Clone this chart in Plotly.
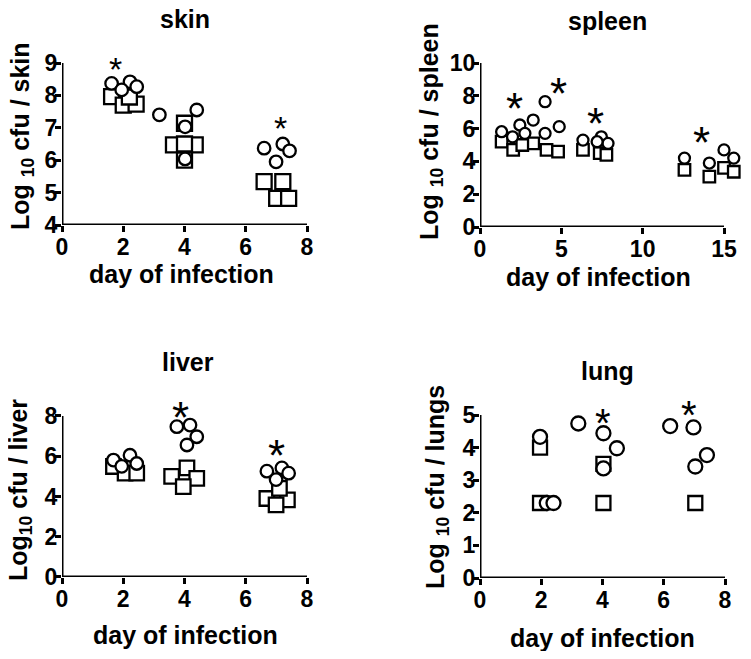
import plotly.graph_objects as go

# ---------------- data ----------------
skin_circle_day = [1.62, 2.22, 2.44, 1.95, 3.18, 4.4, 4.02, 4.02, 6.6, 7.21, 7.43, 6.99]
skin_circle_log = [8.37, 8.42, 8.27, 8.17, 7.4, 7.55, 7.03, 6.04, 6.37, 6.5, 6.29, 5.95]
skin_square_day = [1.62, 2.0, 2.42, 2.2, 4.0, 3.64, 4.35, 4.0, 4.0, 6.6, 7.21, 7.01, 7.4]
skin_square_log = [7.96, 7.7, 7.73, 7.95, 7.14, 6.47, 6.47, 6.5, 6.0, 5.34, 5.34, 4.82, 4.82]
skin_star_day = [1.76, 7.12]
skin_star_log = [9.04, 7.19]

spleen_circle_day = [1.33, 2.45, 3.27, 2.76, 4.0, 4.0, 4.87, 2.0, 6.33, 7.46, 7.87, 7.2, 12.57, 14.1, 15.0, 15.6]
spleen_circle_log = [5.81, 6.22, 6.52, 5.71, 7.64, 5.71, 6.12, 5.5, 5.3, 5.5, 5.1, 5.2, 4.2, 3.9, 4.7, 4.2]
spleen_square_day = [1.33, 2.04, 3.27, 4.09, 4.8, 2.6, 6.33, 7.36, 7.77, 12.57, 14.1, 15.0, 15.6]
spleen_square_log = [5.2, 4.7, 5.1, 4.7, 4.6, 5.0, 4.7, 4.5, 4.4, 3.48, 3.07, 3.6, 3.37]
spleen_star_day = [2.15, 4.8, 7.12, 13.6]
spleen_star_log = [7.75, 8.66, 6.83, 5.71]

liver_circle_day = [1.68, 2.22, 2.44, 1.95, 3.75, 4.18, 4.4, 4.08, 6.69, 7.18, 7.4, 6.99]
liver_circle_log = [5.81, 6.05, 5.64, 5.5, 7.47, 7.55, 6.97, 6.56, 5.26, 5.42, 5.16, 4.84]
liver_square_day = [1.68, 2.06, 2.44, 3.58, 4.08, 4.4, 3.96, 6.69, 7.36, 6.99, 7.1]
liver_square_log = [5.49, 5.16, 5.16, 5.0, 5.42, 4.9, 4.49, 3.9, 3.83, 3.58, 4.4]
liver_star_day = [3.86, 7.01]
liver_star_log = [8.38, 6.48]

lung_circle_day = [1.96, 3.21, 4.03, 4.47, 4.03, 6.21, 6.97, 7.41, 7.03, 2.18, 2.4]
lung_circle_log = [4.33, 4.74, 4.44, 3.98, 3.36, 4.66, 4.62, 3.77, 3.42, 2.3, 2.3]
lung_square_day = [1.96, 4.03, 4.03, 7.03, 1.96]
lung_square_log = [4.0, 3.5, 2.3, 2.3, 2.3]
lung_star_day = [4.03, 6.81]
lung_star_log = [5.0, 5.26]

# page has an 8px body margin -> figure drawn 8px in from the window edges
OFF = 8
W, H = 751 - 2 * OFF, 659 - 2 * OFF
FAM = "Liberation Sans, Arial, sans-serif"

panels = [
    dict(name="skin", ax="", cd=skin_circle_day, cl=skin_circle_log, sd=skin_square_day, sl=skin_square_log,
         td=skin_star_day, tl=skin_star_log, xr=[0, 8], xv=8.6, xt=[0, 2, 4, 6, 8], yr=[4, 9], yv=9.6,
         yt=[4, 5, 6, 7, 8, 9], px=(62, 307), py=(63, 225), csz=12.5, ssz=15, star=34,
         ytitle="Log <sub>10</sub> cfu / skin", ytx=22, yty=136, title_xy=(185, 19), xt_xy=(181, 274)),
    dict(name="spleen", ax="2", cd=spleen_circle_day, cl=spleen_circle_log, sd=spleen_square_day, sl=spleen_square_log,
         td=spleen_star_day, tl=spleen_star_log, xr=[0, 15], xv=16.0, xt=[0, 5, 10, 15], yr=[0, 10], yv=10.5,
         yt=[0, 2, 4, 6, 8, 10], px=(480, 724), py=(63, 227), csz=11, ssz=11.5, star=44,
         ytitle="Log <sub>10</sub> cfu / spleen", ytx=431, yty=132, title_xy=(607, 21), xt_xy=(598, 277)),
    dict(name="liver", ax="3", cd=liver_circle_day, cl=liver_circle_log, sd=liver_square_day, sl=liver_square_log,
         td=liver_star_day, tl=liver_star_log, xr=[0, 8], xv=8.6, xt=[0, 2, 4, 6, 8], yr=[0, 8], yv=8.9,
         yt=[0, 2, 4, 6, 8], px=(62, 307), py=(416, 577), csz=12.5, ssz=14.5, star=44,
         ytitle="Log<sub>10</sub> cfu / liver", ytx=20, yty=490, title_xy=(188, 362), xt_xy=(185, 635)),
    dict(name="lung", ax="4", cd=lung_circle_day, cl=lung_circle_log, sd=lung_square_day, sl=lung_square_log,
         td=lung_star_day, tl=lung_star_log, xr=[0, 8], xv=8.4, xt=[0, 2, 4, 6, 8], yr=[0, 5], yv=5.6,
         yt=[0, 1, 2, 3, 4, 5], px=(480, 725), py=(415, 578), csz=14, ssz=14, star=40,
         ytitle="Log <sub>10</sub> cfu / lungs", ytx=437, yty=487, title_xy=(607, 371), xt_xy=(602, 638)),
]


def fx(v):
    return min(max((v - OFF) / W, 0.0), 1.0)


def fy(v):
    return min(max(1 - (v - OFF) / H, 0.0), 1.0)


fig = go.Figure()
layout = dict(
    width=W, height=H, margin=dict(l=0, r=0, t=0, b=0, pad=0, autoexpand=False),
    paper_bgcolor="white", plot_bgcolor="white", showlegend=False,
    font=dict(family=FAM, color="black"),
    annotations=[], shapes=[],
)

font_b = dict(family=FAM, color="black", size=25)

for p in panels:
    xa = "x" + p["ax"]
    ya = "y" + p["ax"]
    line = dict(color="black", width=2.3)
    fig.add_trace(go.Scatter(x=p["sd"], y=p["sl"], mode="markers", xaxis=xa, yaxis=ya, cliponaxis=False,
                             marker=dict(symbol="square", size=p["ssz"], color="white", line=line)))
    fig.add_trace(go.Scatter(x=p["cd"], y=p["cl"], mode="markers", xaxis=xa, yaxis=ya, cliponaxis=False,
                             marker=dict(symbol="circle", size=p["csz"], color="white", line=line)))
    for sx, sy in zip(p["td"], p["tl"]):
        layout["annotations"].append(dict(text="*", x=sx, y=sy, xref=xa, yref=ya, showarrow=False,
                                          xanchor="center", yanchor="middle", yshift=-p["star"] * 0.2,
                                          font=dict(family=FAM, size=p["star"], color="black")))
    # pixel scale of the tick range, used to extend the plot area past the last tick
    x0p, x1p = p["px"]
    y0p, y1p = p["py"]
    xscale = (x1p - x0p) / (p["xr"][1] - p["xr"][0])
    yscale = (y1p - y0p) / (p["yr"][1] - p["yr"][0])
    x_end = x0p + (p["xv"] - p["xr"][0]) * xscale
    y_top = y1p - (p["yv"] - p["yr"][0]) * yscale
    axcommon = dict(showline=False, ticks="outside", tickwidth=3, ticklen=6,
                    tickcolor="black", showgrid=False, zeroline=False, fixedrange=True,
                    tickfont=dict(family=FAM, size=23, color="black", weight="bold"))
    layout["xaxis" + p["ax"]] = dict(axcommon, domain=[fx(x0p), fx(x_end)], range=[p["xr"][0], p["xv"]],
                                     tickvals=p["xt"], anchor=ya, ticklabelstandoff=-5)
    layout["yaxis" + p["ax"]] = dict(axcommon, domain=[fy(y1p), fy(y_top)], range=[p["yr"][0], p["yv"]],
                                     tickvals=p["yt"], anchor=xa, ticklabelstandoff=-7)
    # axis lines spanning only the tick range
    layout["shapes"].append(dict(type="line", xref=xa, yref=ya, x0=p["xr"][0], x1=p["xr"][1],
                                 y0=p["yr"][0], y1=p["yr"][0], line=dict(color="black", width=3), layer="above"))
    layout["shapes"].append(dict(type="line", xref=xa, yref=ya, x0=p["xr"][0], x1=p["xr"][0],
                                 y0=p["yr"][0], y1=p["yr"][1], line=dict(color="black", width=3), layer="above"))
    layout["annotations"].append(dict(text="<b>%s</b>" % p["name"], x=fx(p["title_xy"][0]), y=fy(p["title_xy"][1]),
                                      xref="paper", yref="paper", showarrow=False, xanchor="center", yanchor="middle",
                                      font=font_b))
    layout["annotations"].append(dict(text="<b>day of infection</b>", x=fx(p["xt_xy"][0]), y=fy(p["xt_xy"][1]),
                                      xref="paper", yref="paper", showarrow=False, xanchor="center", yanchor="middle",
                                      font=font_b))
    layout["annotations"].append(dict(text="<b>%s</b>" % p["ytitle"], x=fx(p["ytx"]), y=fy(p["yty"]),
                                      xref="paper", yref="paper", showarrow=False, xanchor="center", yanchor="middle",
                                      textangle=-90, font=font_b))

fig.update_layout(**layout)
fig.write_html("out.html")
